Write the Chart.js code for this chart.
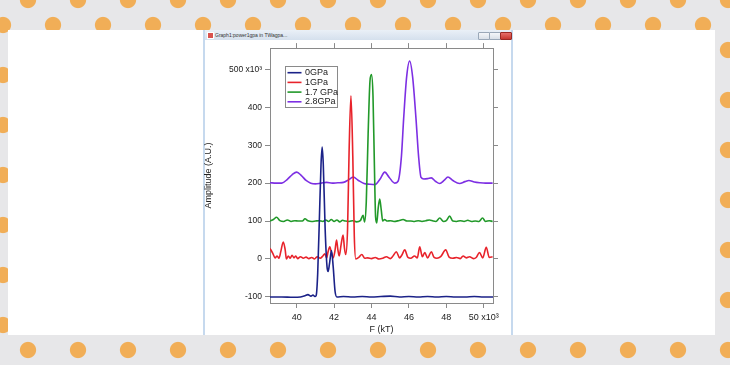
<!DOCTYPE html>
<html><head><meta charset="utf-8">
<script src="https://cdn.jsdelivr.net/npm/chart.js@4.4.0/dist/chart.umd.min.js"></script>
<style>
html,body{margin:0;padding:0;}
body{width:730px;height:365px;overflow:hidden;position:relative;background-color:#e7e7e9;
background-image:radial-gradient(circle at 25px 25px,#f1ae57 0,#f1ae57 7.6px,rgba(241,174,87,0) 8.6px),radial-gradient(circle at 25px 25px,#f1ae57 0,#f1ae57 7.6px,rgba(241,174,87,0) 8.6px);
background-size:50px 50px,50px 50px;background-position:3px -25px,-22px 0px;background-repeat:repeat;}
#panel{position:absolute;left:8px;top:30px;width:707px;height:305px;background:#fff;}
#win{position:absolute;left:203px;top:30px;width:310px;height:305px;background:#fff;box-sizing:border-box;border-left:2px solid #c6d9ee;border-right:2px solid #c6d9ee;}
#bar{position:absolute;left:0;top:0;right:0;height:10px;background:linear-gradient(#eaf0f7,#d5e0ed);}
#ico{position:absolute;left:2px;top:2px;width:5px;height:5px;background:#d9534f;border:0.5px solid #fff;}
#ttl{position:absolute;left:10px;top:1px;font:5px "Liberation Sans",Arial,sans-serif;color:#333;white-space:nowrap;line-height:8px;}
.btn{position:absolute;top:1.5px;width:10px;height:6px;border:0.5px solid #9aa8b8;border-radius:1px;background:linear-gradient(#f4f6f9,#d9e0e8);}
#c{position:absolute;left:203px;top:40px;}
</style></head>
<body>
<div id="panel"></div>
<div id="win"><div id="bar"><div id="ico"></div><div id="ttl">Graph1:power1gpa in TWagpa...</div>
<div class="btn" style="left:273px"></div><div class="btn" style="left:284px"></div><div class="btn" style="left:295px;background:linear-gradient(#e8706a,#c7382f);border-color:#9b2a24"></div></div></div>
<canvas id="c" width="310" height="295" style="width:310px;height:295px"></canvas>
<script>
// ---- data ----
const seriesLabels = ['0GPa', '1GPa', '1.7 GPa', '2.8GPa'];
const seriesColors = ['#1b2288', '#e8232b', '#22992a', '#7d2fe3'];

const gpa0X = [38.57, 39.2, 39.8, 40.2, 40.44, 40.6, 40.76, 40.87, 40.97, 41.04, 41.12, 41.22, 41.3, 41.36, 41.42, 41.52, 41.62, 41.68, 41.76, 41.86, 41.95, 42.05, 42.15, 42.5, 43.0, 43.5, 44.0, 44.5, 45.0, 45.5, 46.0, 46.5, 47.0, 47.5, 48.0, 48.5, 49.0, 49.5, 50.0, 50.5];
const gpa0Y = [-100, -100, -101, -100, -97, -94, -98, -95, -99, -96, -40, 120, 250, 295, 250, 80, -20, -33, -10, 22, -20, -85, -100, -99, -100, -99, -100, -99, -98, -100, -99, -100, -99, -100, -99, -100, -100, -99, -100, -100];

const gpa1X = [38.57, 38.72, 38.84, 38.95, 39.05, 39.15, 39.28, 39.38, 39.45, 39.55, 39.65, 39.75, 39.85, 39.95, 40.05, 40.2, 40.35, 40.5, 40.65, 40.8, 40.95, 41.1, 41.25, 41.4, 41.5, 41.6, 41.68, 41.77, 41.86, 41.95, 42.04, 42.13, 42.2, 42.27, 42.38, 42.48, 42.55, 42.62, 42.72, 42.8, 42.9, 43.0, 43.08, 43.16, 43.32, 43.48, 43.64, 43.8, 44.0, 44.2, 44.4, 44.6, 44.8, 45.0, 45.15, 45.33, 45.5, 45.62, 45.78, 45.95, 46.1, 46.3, 46.45, 46.58, 46.72, 46.85, 47.0, 47.2, 47.35, 47.5, 47.7, 47.97, 48.15, 48.35, 48.55, 48.75, 48.9, 49.07, 49.25, 49.45, 49.6, 49.78, 49.95, 50.14, 50.3, 50.48];
const gpa1Y = [28, 15, 3, 8, 2, 20, 45, 25, 0, 8, 2, 10, 3, 8, 1, 6, 2, 5, 1, 4, 0, 6, 2, 8, 14, 3, 20, 32, 15, 3, 20, 50, 25, 8, 40, 63, 30, 12, 80, 280, 430, 270, 60, 0, 4, 12, 2, 3, 1, 4, 0, 2, 6, 1, 8, 19, 3, 10, 24, 4, 2, 8, 3, 32, 6, 17, 3, 19, 4, 2, 6, 24, 5, 2, 4, 1, 8, 3, 6, 1, 4, 17, 3, 31, 4, 6];

const gpa17X = [38.57, 38.75, 38.92, 39.1, 39.3, 39.5, 39.7, 39.9, 40.1, 40.3, 40.44, 40.6, 40.8, 41.0, 41.2, 41.4, 41.55, 41.7, 41.85, 42.0, 42.15, 42.3, 42.45, 42.6, 42.8, 43.0, 43.2, 43.4, 43.55, 43.63, 43.72, 43.82, 43.92, 44.0, 44.08, 44.15, 44.22, 44.28, 44.36, 44.44, 44.52, 44.6, 44.7, 44.85, 45.0, 45.2, 45.45, 45.69, 45.9, 46.1, 46.3, 46.5, 46.7, 46.9, 47.1, 47.3, 47.45, 47.65, 47.85, 48.0, 48.18, 48.35, 48.55, 48.75, 48.95, 49.15, 49.35, 49.55, 49.75, 49.94, 50.1, 50.3, 50.48];
const gpa17Y = [100, 104, 110, 101, 99, 103, 99, 101, 100, 100, 106, 101, 99, 100, 101, 99, 103, 99, 104, 99, 103, 98, 102, 100, 99, 101, 98, 101, 115, 98, 150, 330, 470, 486, 430, 260, 110, 95, 135, 158, 130, 100, 104, 100, 101, 99, 101, 104, 100, 100, 99, 101, 99, 101, 103, 100, 99, 108, 99, 101, 113, 100, 99, 101, 99, 102, 99, 100, 99, 108, 99, 101, 99];

const gpa28X = [38.57, 38.9, 39.2, 39.5, 39.75, 40.0, 40.25, 40.5, 40.75, 41.0, 41.3, 41.6, 41.9, 42.2, 42.5, 42.75, 43.02, 43.3, 43.6, 43.9, 44.18, 44.45, 44.71, 44.95, 45.24, 45.42, 45.6, 45.72, 45.88, 46.04, 46.2, 46.38, 46.52, 46.65, 46.8, 47.0, 47.2, 47.42, 47.65, 47.88, 48.09, 48.35, 48.71, 49.0, 49.21, 49.5, 49.8, 50.1, 50.48];
const gpa28Y = [201, 200, 200, 210, 222, 229, 220, 207, 200, 198, 200, 202, 200, 201, 202, 208, 216, 207, 199, 197, 196, 210, 229, 215, 200, 205, 270, 370, 480, 522, 480, 370, 270, 215, 211, 212, 214, 205, 199, 207, 216, 207, 199, 204, 207, 203, 201, 200, 200];

const xMin = 38.57, xMax = 50.5, xStep = 2;
const yMin = -116, yMax = 556, yStep = 100;
const xTitle = 'F (kT)';
const yTitle = 'Amplitude (A.U.)';

// ---- chart ----
const zip = (xs, ys) => xs.map((x, i) => ({ x: x, y: ys[i] }));
const seriesX = [gpa0X, gpa1X, gpa17X, gpa28X];
const seriesY = [gpa0Y, gpa1Y, gpa17Y, gpa28Y];
const FONT = '"Liberation Sans", Arial, sans-serif';
const AX = '#8a8a8a';

const legendBox = {
  id: 'legendBox',
  afterDraw(chart) {
    const { ctx, chartArea } = chart;
    const x0 = Math.round(chartArea.left + 15), y0 = Math.round(chartArea.top + 18);
    const w = 52, h = 41, rowH = 9.7;
    ctx.save();
    ctx.fillStyle = '#fff'; ctx.fillRect(x0, y0, w, h);
    ctx.strokeStyle = AX; ctx.lineWidth = 1; ctx.strokeRect(x0 + 0.5, y0 + 0.5, w, h);
    ctx.font = '9px ' + FONT; ctx.textBaseline = 'middle'; ctx.textAlign = 'left';
    chart.data.datasets.forEach((ds, i) => {
      const y = y0 + 6.7 + i * rowH;
      ctx.strokeStyle = ds.borderColor; ctx.lineWidth = 1.6;
      ctx.beginPath(); ctx.moveTo(x0 + 2.5, y); ctx.lineTo(x0 + 16.5, y); ctx.stroke();
      ctx.fillStyle = '#222';
      ctx.fillText(ds.label, x0 + 20, y);
    });
    ctx.restore();
  }
};

const gridOpts = { drawOnChartArea: false, drawTicks: true, tickLength: 5, color: AX, lineWidth: 1 };
const borderOpts = { display: true, color: AX, width: 1 };

new Chart(document.getElementById('c'), {
  type: 'line',
  data: {
    datasets: seriesLabels.map((lab, i) => ({
      label: lab,
      data: zip(seriesX[i], seriesY[i]),
      borderColor: seriesColors[i],
      backgroundColor: seriesColors[i],
      borderWidth: 1.6,
      pointRadius: 0,
      fill: false,
      cubicInterpolationMode: 'monotone',
      xAxisID: 'x', yAxisID: 'y'
    }))
  },
  options: {
    responsive: false,
    animation: false,
    layout: { padding: 0 },
    plugins: { legend: { display: false }, tooltip: { enabled: false } },
    scales: {
      x: {
        type: 'linear', position: 'bottom', min: xMin, max: xMax,
        grid: gridOpts, border: borderOpts,
        ticks: { stepSize: xStep, includeBounds: false, padding: 4, color: '#222', maxRotation: 0,
          font: { family: FONT, size: 9 },
          callback: v => v === 50 ? '50 x10³' : String(v) },
        title: { display: true, text: xTitle, color: '#222', padding: { top: 0, bottom: 0 }, font: { family: FONT, size: 9 } },
        afterFit: s => { s.height = 32; }
      },
      x2: {
        type: 'linear', position: 'top', min: xMin, max: xMax,
        grid: gridOpts, border: borderOpts,
        ticks: { stepSize: xStep, includeBounds: false, display: false },
        afterFit: s => { s.height = 7; }
      },
      y: {
        type: 'linear', position: 'left', min: yMin, max: yMax,
        grid: gridOpts, border: borderOpts,
        ticks: { stepSize: yStep, includeBounds: false, padding: 3, color: '#222',
          font: { family: FONT, size: 8.5 },
          callback: v => v === 500 ? '500 x10³' : String(v) },
        title: { display: true, text: yTitle, color: '#222', padding: { top: 0, bottom: 0 }, font: { family: FONT, size: 9 } },
        afterFit: s => { s.width = 67; }
      },
      y2: {
        type: 'linear', position: 'right', min: yMin, max: yMax,
        grid: gridOpts, border: borderOpts,
        ticks: { stepSize: yStep, includeBounds: false, display: false },
        afterFit: s => { s.width = 20; }
      }
    }
  },
  plugins: [legendBox]
});
</script>
</body></html>
